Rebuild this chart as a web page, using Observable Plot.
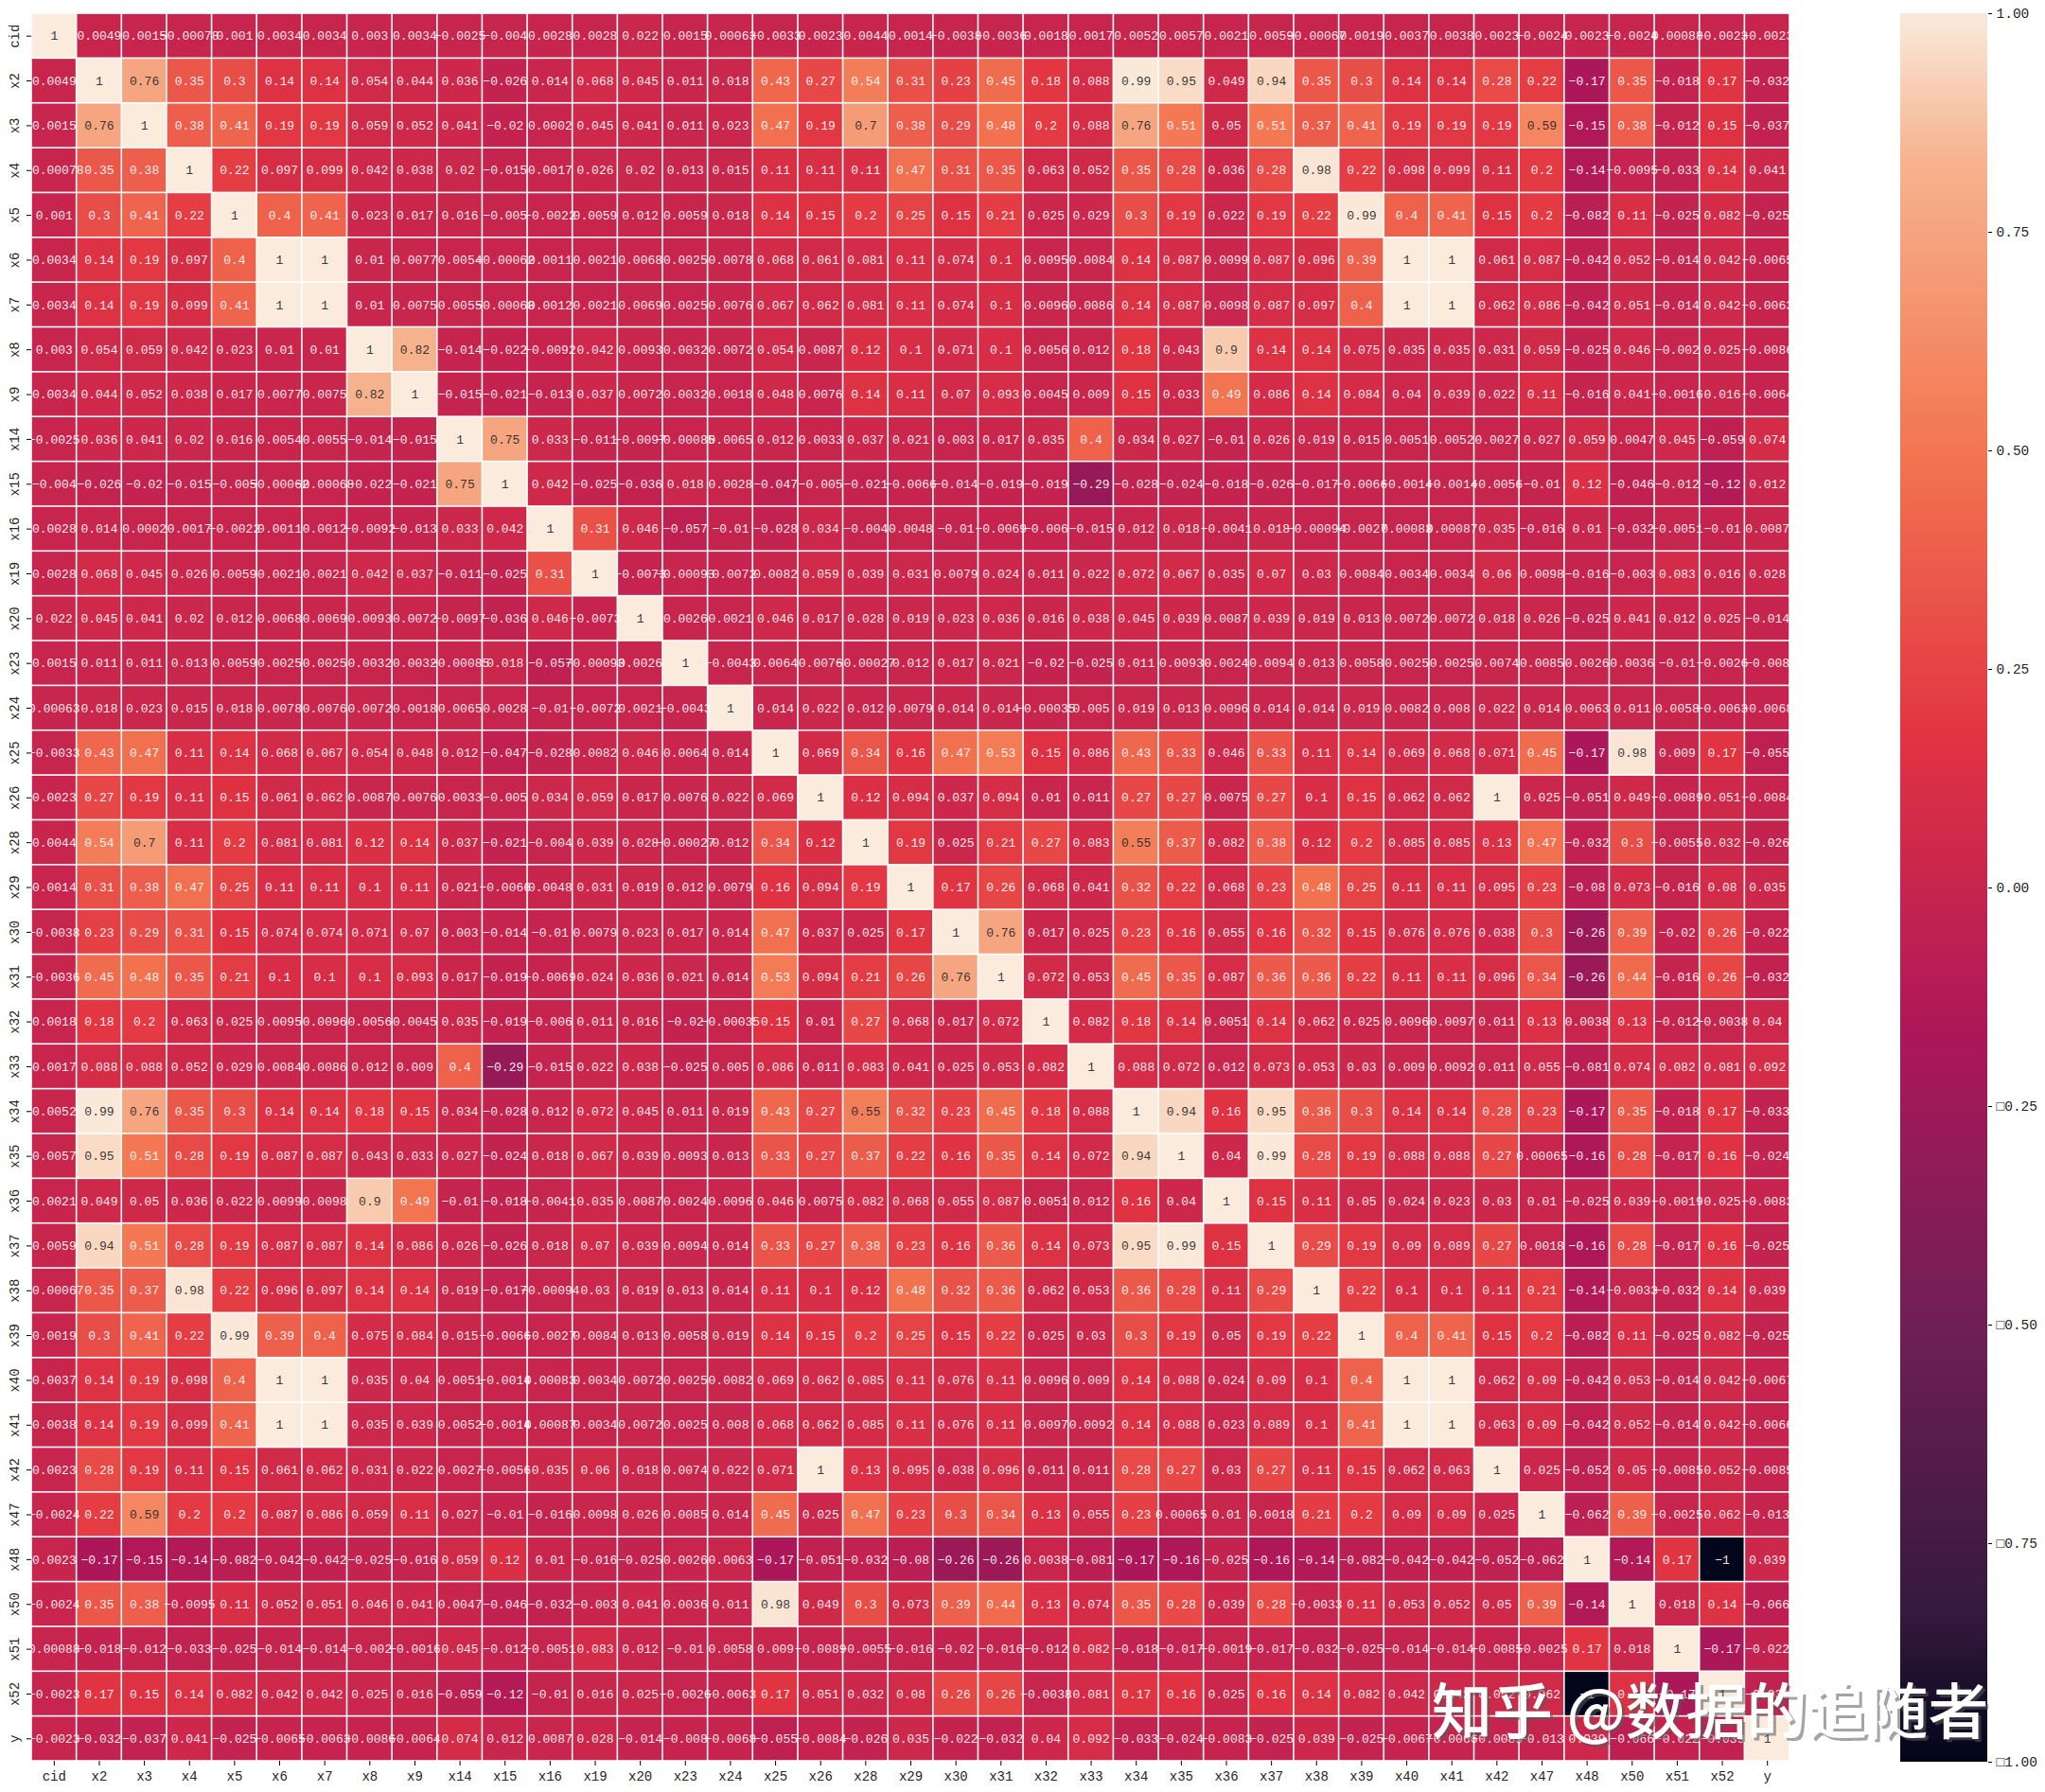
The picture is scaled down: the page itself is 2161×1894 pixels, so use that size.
<!DOCTYPE html>
<html><head><meta charset="utf-8">
<style>
html,body{margin:0;padding:0;background:#fff}
#wrap{position:relative;width:2161px;height:1894px;overflow:hidden}
#wrap svg{display:block;background:transparent}
#bar{position:absolute;left:2000px;top:0}
#mark{position:absolute;left:1513px;top:1762px;font-family:"Noto Sans CJK SC";font-size:64px;line-height:84px;font-weight:500;color:#fff;white-space:pre;text-shadow:3px 3px 0 rgba(90,90,90,.55)}
</style>
<script src="https://cdn.jsdelivr.net/npm/d3@7"></script>
<script src="https://cdn.jsdelivr.net/npm/@observablehq/plot@0.6"></script>
</head><body><div id="wrap"><div id="main"></div><div id="bar"></div><div id="mark">知乎 @数据的追随者</div></div>
<script>
const names = ["cid","x2","x3","x4","x5","x6","x7","x8","x9","x14","x15","x16","x19","x20","x23","x24","x25","x26","x28","x29","x30","x31","x32","x33","x34","x35","x36","x37","x38","x39","x40","x41","x42","x47","x48","x50","x51","x52","y"];
// Upper triangle, one row per variable, starting on the diagonal
const r_cid = [1,0.0049,0.0015,-0.00078,0.001,0.0034,0.0034,0.003,0.0034,-0.0025,-0.004,0.0028,0.0028,0.022,0.0015,0.00063,-0.0033,0.0023,0.0044,0.0014,-0.0038,-0.0036,0.0018,0.0017,0.0052,0.0057,0.0021,0.0059,-0.00067,0.0019,0.0037,0.0038,0.0023,-0.0024,0.0023,-0.0024,0.00088,-0.0023,-0.0023];
const r_x2 = [1,0.76,0.35,0.3,0.14,0.14,0.054,0.044,0.036,-0.026,0.014,0.068,0.045,0.011,0.018,0.43,0.27,0.54,0.31,0.23,0.45,0.18,0.088,0.99,0.95,0.049,0.94,0.35,0.3,0.14,0.14,0.28,0.22,-0.17,0.35,-0.018,0.17,-0.032];
const r_x3 = [1,0.38,0.41,0.19,0.19,0.059,0.052,0.041,-0.02,0.0002,0.045,0.041,0.011,0.023,0.47,0.19,0.7,0.38,0.29,0.48,0.2,0.088,0.76,0.51,0.05,0.51,0.37,0.41,0.19,0.19,0.19,0.59,-0.15,0.38,-0.012,0.15,-0.037];
const r_x4 = [1,0.22,0.097,0.099,0.042,0.038,0.02,-0.015,0.0017,0.026,0.02,0.013,0.015,0.11,0.11,0.11,0.47,0.31,0.35,0.063,0.052,0.35,0.28,0.036,0.28,0.98,0.22,0.098,0.099,0.11,0.2,-0.14,-0.0095,-0.033,0.14,0.041];
const r_x5 = [1,0.4,0.41,0.023,0.017,0.016,-0.005,-0.0022,0.0059,0.012,0.0059,0.018,0.14,0.15,0.2,0.25,0.15,0.21,0.025,0.029,0.3,0.19,0.022,0.19,0.22,0.99,0.4,0.41,0.15,0.2,-0.082,0.11,-0.025,0.082,-0.025];
const r_x6 = [1,1,0.01,0.0077,0.0054,-0.00062,0.0011,0.0021,0.0068,0.0025,0.0078,0.068,0.061,0.081,0.11,0.074,0.1,0.0095,0.0084,0.14,0.087,0.0099,0.087,0.096,0.39,1,1,0.061,0.087,-0.042,0.052,-0.014,0.042,-0.0065];
const r_x7 = [1,0.01,0.0075,0.0055,-0.00068,0.0012,0.0021,0.0069,0.0025,0.0076,0.067,0.062,0.081,0.11,0.074,0.1,0.0096,0.0086,0.14,0.087,0.0098,0.087,0.097,0.4,1,1,0.062,0.086,-0.042,0.051,-0.014,0.042,-0.0063];
const r_x8 = [1,0.82,-0.014,-0.022,-0.0092,0.042,0.0093,0.0032,0.0072,0.054,0.0087,0.12,0.1,0.071,0.1,0.0056,0.012,0.18,0.043,0.9,0.14,0.14,0.075,0.035,0.035,0.031,0.059,-0.025,0.046,-0.002,0.025,-0.0086];
const r_x9 = [1,-0.015,-0.021,-0.013,0.037,0.0072,0.0032,0.0018,0.048,0.0076,0.14,0.11,0.07,0.093,0.0045,0.009,0.15,0.033,0.49,0.086,0.14,0.084,0.04,0.039,0.022,0.11,-0.016,0.041,-0.0016,0.016,-0.0064];
const r_x14 = [1,0.75,0.033,-0.011,-0.0097,-0.00085,0.0065,0.012,0.0033,0.037,0.021,0.003,0.017,0.035,0.4,0.034,0.027,-0.01,0.026,0.019,0.015,0.0051,0.0052,0.0027,0.027,0.059,0.0047,0.045,-0.059,0.074];
const r_x15 = [1,0.042,-0.025,-0.036,0.018,0.0028,-0.047,-0.005,-0.021,-0.0066,-0.014,-0.019,-0.019,-0.29,-0.028,-0.024,-0.018,-0.026,-0.017,-0.0066,-0.0014,-0.0014,-0.0056,-0.01,0.12,-0.046,-0.012,-0.12,0.012];
const r_x16 = [1,0.31,0.046,-0.057,-0.01,-0.028,0.034,-0.004,0.0048,-0.01,-0.0069,-0.006,-0.015,0.012,0.018,-0.0041,0.018,-0.00094,-0.0027,0.00083,0.00087,0.035,-0.016,0.01,-0.032,-0.0051,-0.01,0.0087];
const r_x19 = [1,-0.0073,-0.00093,-0.0072,0.0082,0.059,0.039,0.031,0.0079,0.024,0.011,0.022,0.072,0.067,0.035,0.07,0.03,0.0084,0.0034,0.0034,0.06,0.0098,-0.016,-0.003,0.083,0.016,0.028];
const r_x20 = [1,0.0026,0.0021,0.046,0.017,0.028,0.019,0.023,0.036,0.016,0.038,0.045,0.039,0.0087,0.039,0.019,0.013,0.0072,0.0072,0.018,0.026,-0.025,0.041,0.012,0.025,-0.014];
const r_x23 = [1,-0.0043,0.0064,0.0076,-0.00027,0.012,0.017,0.021,-0.02,-0.025,0.011,0.0093,0.0024,0.0094,0.013,0.0058,0.0025,0.0025,0.0074,0.0085,0.0026,0.0036,-0.01,-0.0026,-0.008];
const r_x24 = [1,0.014,0.022,0.012,0.0079,0.014,0.014,-0.00035,0.005,0.019,0.013,0.0096,0.014,0.014,0.019,0.0082,0.008,0.022,0.014,0.0063,0.011,0.0058,-0.0063,-0.0068];
const r_x25 = [1,0.069,0.34,0.16,0.47,0.53,0.15,0.086,0.43,0.33,0.046,0.33,0.11,0.14,0.069,0.068,0.071,0.45,-0.17,0.98,0.009,0.17,-0.055];
const r_x26 = [1,0.12,0.094,0.037,0.094,0.01,0.011,0.27,0.27,0.0075,0.27,0.1,0.15,0.062,0.062,1,0.025,-0.051,0.049,-0.0089,0.051,-0.0084];
const r_x28 = [1,0.19,0.025,0.21,0.27,0.083,0.55,0.37,0.082,0.38,0.12,0.2,0.085,0.085,0.13,0.47,-0.032,0.3,-0.0055,0.032,-0.026];
const r_x29 = [1,0.17,0.26,0.068,0.041,0.32,0.22,0.068,0.23,0.48,0.25,0.11,0.11,0.095,0.23,-0.08,0.073,-0.016,0.08,0.035];
const r_x30 = [1,0.76,0.017,0.025,0.23,0.16,0.055,0.16,0.32,0.15,0.076,0.076,0.038,0.3,-0.26,0.39,-0.02,0.26,-0.022];
const r_x31 = [1,0.072,0.053,0.45,0.35,0.087,0.36,0.36,0.22,0.11,0.11,0.096,0.34,-0.26,0.44,-0.016,0.26,-0.032];
const r_x32 = [1,0.082,0.18,0.14,0.0051,0.14,0.062,0.025,0.0096,0.0097,0.011,0.13,0.0038,0.13,-0.012,-0.0038,0.04];
const r_x33 = [1,0.088,0.072,0.012,0.073,0.053,0.03,0.009,0.0092,0.011,0.055,-0.081,0.074,0.082,0.081,0.092];
const r_x34 = [1,0.94,0.16,0.95,0.36,0.3,0.14,0.14,0.28,0.23,-0.17,0.35,-0.018,0.17,-0.033];
const r_x35 = [1,0.04,0.99,0.28,0.19,0.088,0.088,0.27,0.00065,-0.16,0.28,-0.017,0.16,-0.024];
const r_x36 = [1,0.15,0.11,0.05,0.024,0.023,0.03,0.01,-0.025,0.039,-0.0019,0.025,-0.0083];
const r_x37 = [1,0.29,0.19,0.09,0.089,0.27,0.0018,-0.16,0.28,-0.017,0.16,-0.025];
const r_x38 = [1,0.22,0.1,0.1,0.11,0.21,-0.14,-0.0033,-0.032,0.14,0.039];
const r_x39 = [1,0.4,0.41,0.15,0.2,-0.082,0.11,-0.025,0.082,-0.025];
const r_x40 = [1,1,0.062,0.09,-0.042,0.053,-0.014,0.042,-0.0067];
const r_x41 = [1,0.063,0.09,-0.042,0.052,-0.014,0.042,-0.0066];
const r_x42 = [1,0.025,-0.052,0.05,-0.0085,0.052,-0.0085];
const r_x47 = [1,-0.062,0.39,-0.0025,0.062,-0.013];
const r_x48 = [1,-0.14,0.17,-1,0.039];
const r_x50 = [1,0.018,0.14,-0.066];
const r_x51 = [1,-0.17,-0.022];
const r_x52 = [1,-0.039];
const r_y = [1];
const upper = [r_cid,r_x2,r_x3,r_x4,r_x5,r_x6,r_x7,r_x8,r_x9,r_x14,r_x15,r_x16,r_x19,r_x20,r_x23,r_x24,r_x25,r_x26,r_x28,r_x29,r_x30,r_x31,r_x32,r_x33,r_x34,r_x35,r_x36,r_x37,r_x38,r_x39,r_x40,r_x41,r_x42,r_x47,r_x48,r_x50,r_x51,r_x52,r_y];
upper.forEach((r,i)=>{ if(r.length!==names.length-i) throw new Error("row "+names[i]+" has "+r.length+" want "+(names.length-i)); });

// seaborn "rocket" palette
const rocketStops = [-1,-0.833,-0.5,-0.167,0.167,0.5,0.833,1];
const rocketColors = ["#03051a","#35193e","#701f57","#ad1759","#e13342","#f37651","#f6b48f","#faebdd"];
const colorTicks = [-1,-0.75,-0.5,-0.25,0,0.25,0.5,0.75,1];
const darkTextFrom = 0.55;

const cells = [];
upper.forEach((r,i)=>r.forEach((v,k)=>{
  const j=i+k;
  cells.push({row:names[i],col:names[j],v});
  if(k>0) cells.push({row:names[j],col:names[i],v});
}));
const fmt = v => String(v).replace("-","\u2212");
const color = {type:"linear",domain:rocketStops,range:rocketColors,clamp:true};
const font = "'Liberation Mono','DejaVu Sans Mono',monospace";

const main = Plot.plot({
  width:2161,height:1894,
  marginLeft:33,marginRight:270,marginTop:14,marginBottom:33,
  style:{background:"transparent",fontFamily:font},
  x:{domain:names,padding:0,round:false,label:null},
  y:{domain:names,padding:0,round:false,label:null},
  color,
  marks:[
    Plot.cell(cells,{x:"col",y:"row",fill:"v",inset:0.8}),
    Plot.text(cells,{x:"col",y:"row",text:d=>fmt(d.v),fill:d=>d.v>=darkTextFrom?"#262626":"#ffffff",fontSize:13,fontFamily:font,letterSpacing:-1.1,fillOpacity:0.92}),
    Plot.axisX({anchor:"bottom",tickSize:5,tickPadding:6,fontSize:14,fontFamily:font,letterSpacing:-1,label:null,fill:"#262626"}),
    Plot.axisY({anchor:"left",tickSize:5,tickPadding:9,tickRotate:-90,fontSize:14,fontFamily:font,letterSpacing:-1,label:null,fill:"#262626"})
  ]
});
document.getElementById("main").append(main);

const rampSteps = d3.range(-1,1,0.005);
const bar = Plot.plot({
  width:161,height:1894,
  marginLeft:8,marginRight:61,marginTop:14,marginBottom:32,
  style:{background:"transparent",fontFamily:font},
  x:{domain:[0,1],axis:null},
  y:{domain:[-1,1],label:null},
  color,
  marks:[
    Plot.rect(rampSteps,{x1:0,x2:1,y1:d=>d,y2:d=>d+0.005,fill:d=>d,shapeRendering:"crispEdges"}),
    Plot.axisY({anchor:"right",ticks:colorTicks,tickSize:4,tickPadding:5,fontSize:14.5,fontFamily:font,letterSpacing:-1,label:null,fill:"#262626",
      tickFormat:d=>(d<0?"\u25a1":"")+Math.abs(d).toFixed(2)})
  ]
});
document.getElementById("bar").append(bar);
</script></body></html>
